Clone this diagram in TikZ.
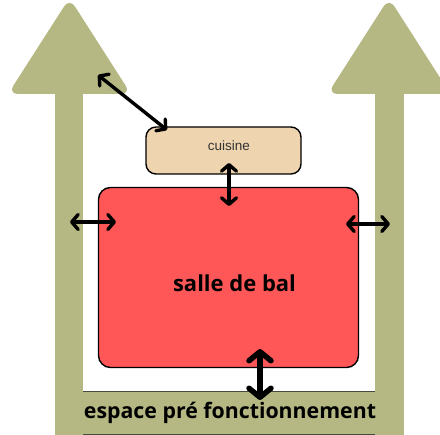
\documentclass[tikz,border=0pt]{standalone}
\usepackage{fontspec}
\setmainfont{Open Sans}
\newfontfamily\cuisinefont{Liberation Sans}
\usetikzlibrary{arrows.meta}
\definecolor{arrowgreen}{HTML}{B5B883}
\definecolor{salleRed}{HTML}{FF5757}
\definecolor{cuisineTan}{HTML}{EFD4B0}
\definecolor{bandline}{HTML}{4A4A3A}
\tikzset{
  bigarrow/.style={fill=arrowgreen, draw=none},
  headtri/.style={fill=arrowgreen, draw=none, rounded corners=10pt},
  roombox/.style={draw=black, line width=1.4pt, inner sep=0pt},
  dbl/.style={line width=3.4pt, {Straight Barb[round,length=6.5pt,width=15pt]}-{Straight Barb[round,length=6.5pt,width=15pt]}},
  dblthick/.style={line width=5.5pt, {Straight Barb[round,length=9pt,width=22pt]}-{Straight Barb[round,length=9pt,width=22pt]}},
  lbl/.style={inner sep=0pt, text=black}
}
\begin{document}
\begin{tikzpicture}[x=1pt,y=-1pt]
\useasboundingbox (0,0) rectangle (440,435);
\clip (0,0) rectangle (440,435);
% left big arrow
\fill[bigarrow] (55,92) rectangle (83,440);
\fill[headtri] (8,94) -- (69.5,-2) -- (131,94) -- cycle;
% right big arrow
\fill[bigarrow] (374.5,92) rectangle (403.5,440);
\fill[headtri] (327.5,94) -- (389,-2) -- (450.5,94) -- cycle;
% bottom band
\fill[bigarrow] (83,391) rectangle (374.5,440);
\draw[bandline, line width=0.9pt] (83,391) -- (374.5,391);
\draw[bandline, line width=0.9pt] (83,434) -- (374.5,434);
\node[lbl, font=\bfseries\fontsize{21.3}{24}\selectfont] (espace) at (230,413) {espace pré fonctionnement};
% salle de bal
\node[roombox, fill=salleRed, rounded corners=12pt, minimum width=260pt, minimum height=180pt] (salle) at (228.5,277.5) {};
\node[lbl, font=\bfseries\fontsize{22}{26}\selectfont] (salletext) at (234.5,283) {salle de bal};
% cuisine
\node[roombox, fill=cuisineTan, rounded corners=10pt, minimum width=155pt, minimum height=47pt] (cuisine) at (223.5,150.5) {};
\node[lbl, text=black!80, font=\cuisinefont\fontsize{13.5}{16}\selectfont] (cuisinetext) at (229,146) {cuisine};
% connectors
\coordinate (diagA) at (98,75);
\coordinate (diagB) at (167,130);
\draw[dbl] (diagA) -- (diagB);
\coordinate (vertA) at (229,163);
\coordinate (vertB) at (229,206);
\draw[dbl] (vertA) -- (vertB);
\coordinate (leftA) at (70,222);
\coordinate (leftB) at (116,222);
\draw[dbl] (leftA) -- (leftB);
\coordinate (rightA) at (346,224);
\coordinate (rightB) at (390,224);
\draw[dbl] (rightA) -- (rightB);
\coordinate (botA) at (260,349);
\coordinate (botB) at (260,400);
\draw[dblthick] (botA) -- (botB);
\end{tikzpicture}
\end{document}
